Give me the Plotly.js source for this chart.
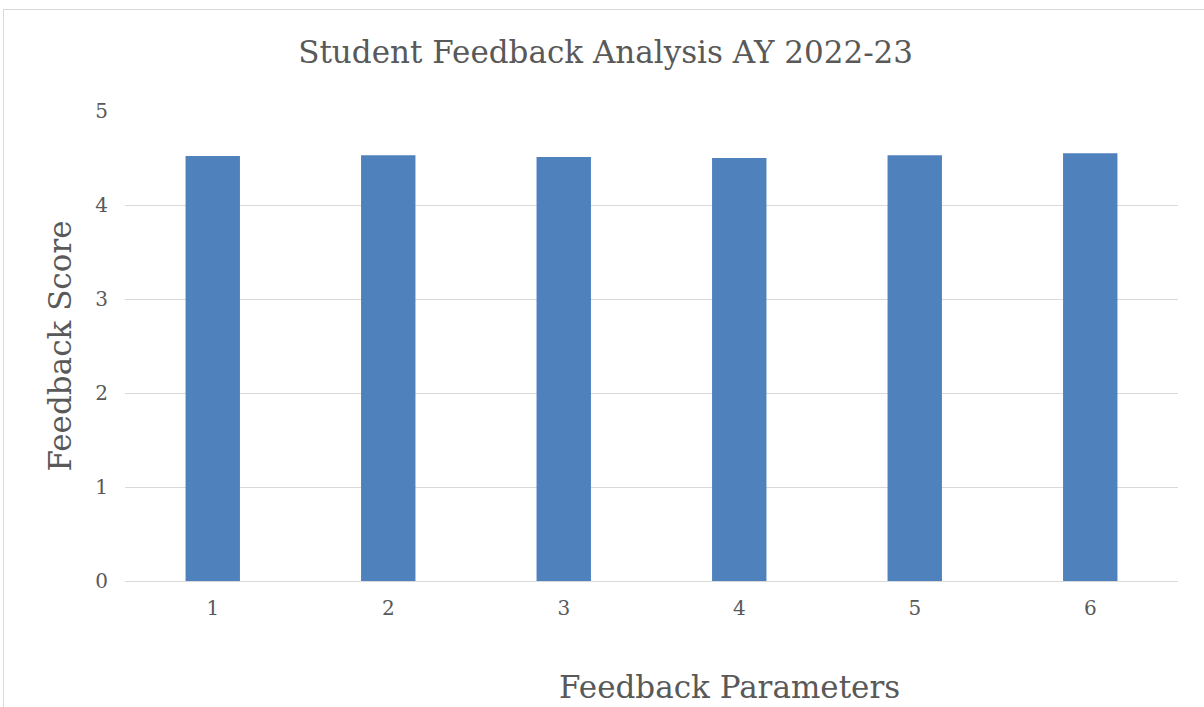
<!DOCTYPE html>
<html>
<head>
<meta charset="utf-8">
<script src="https://cdn.plot.ly/plotly-3.0.1.min.js"></script>
<style>
  html, body { margin: 0; padding: 0; background: #ffffff; }
  #wrap { position: relative; width: 1204px; height: 707px; overflow: hidden; }
  #frame { position: absolute; left: 3px; top: 9px; width: 1210px; height: 720px; border: 1px solid #d9d9d9; box-sizing: border-box; pointer-events: none; }
  #chart { position: absolute; left: 0; top: 0; width: 1204px; height: 707px; }
</style>
</head>
<body>
<div id="wrap">
  <div id="chart"></div>
  <div id="frame"></div>
</div>
<script>
const categories = ["1", "2", "3", "4", "5", "6"];
const scores = [4.52, 4.53, 4.51, 4.50, 4.53, 4.55];
const yTicks = [0, 1, 2, 3, 4, 5];

const textColor = "#595959";
const fontFamily = "'DejaVu Serif', 'Liberation Serif', serif";

const trace = {
  type: "bar",
  x: categories,
  y: scores,
  marker: { color: "#4F81BD" },
  hoverinfo: "x+y"
};

const layout = {
  width: 1204,
  height: 707,
  paper_bgcolor: "rgba(0,0,0,0)",
  plot_bgcolor: "rgba(0,0,0,0)",
  margin: { l: 125, r: 26, t: 111, b: 126 },
  bargap: 0.69,
  showlegend: false,
  font: { family: fontFamily, color: textColor },
  title: {
    text: "Student Feedback Analysis AY 2022-23",
    font: { family: fontFamily, size: 31, color: textColor },
    x: 0.503, xanchor: "center",
    y: 0.926, yanchor: "middle"
  },
  xaxis: {
    type: "category",
    tickfont: { family: fontFamily, size: 20, color: textColor },
    showgrid: false,
    showline: true,
    linecolor: "#d9d9d9",
    linewidth: 1,
    ticks: "",
    ticklabelstandoff: 9
  },
  yaxis: {
    range: [0, 5],
    tickvals: yTicks,
    ticktext: yTicks.map(String),
    tickfont: { family: fontFamily, size: 20, color: textColor },
    showgrid: true,
    gridcolor: "#d9d9d9",
    gridwidth: 1,
    zeroline: false,
    showline: false,
    ticks: "",
    ticklabelstandoff: 16,
    title: {
      text: "Feedback Score",
      font: { family: fontFamily, size: 31, color: textColor },
      standoff: 14
    }
  },
  annotations: [{
    text: "Feedback Parameters",
    xref: "paper", yref: "paper",
    x: 0.574, y: -0.225,
    xanchor: "center", yanchor: "middle",
    showarrow: false,
    font: { family: fontFamily, size: 31, color: textColor }
  }]
};

Plotly.newPlot("chart", [trace], layout, { displayModeBar: false });
</script>
</body>
</html>
